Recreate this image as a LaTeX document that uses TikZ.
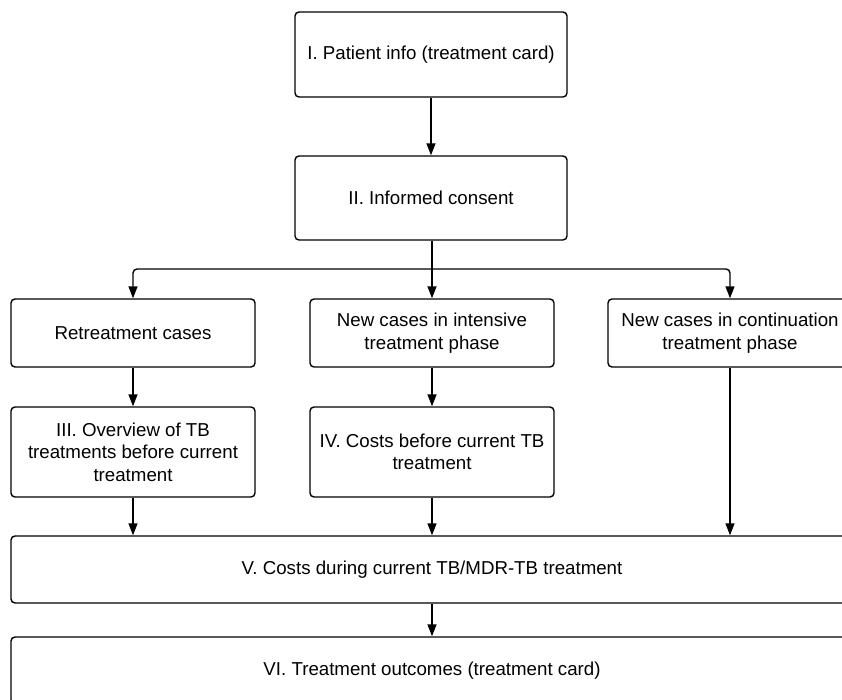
\documentclass[tikz,border=0pt]{standalone}
\usepackage{fontspec}
\setmainfont{Liberation Sans}
\usetikzlibrary{arrows.meta}
\begin{document}
\begin{tikzpicture}[x=1pt,y=-1pt,
  box/.style={draw, line width=1.4pt, rounded corners=4pt, align=center,
    inner sep=0pt, font=\fontsize{18.7}{22.5}\selectfont},
  arr/.style={line width=1.4pt, -{Triangle[length=12pt,width=9pt]}},
  ln/.style={line width=1.4pt}]
\useasboundingbox (0,0) rectangle (842,700);
\clip (0,0) rectangle (842,700);
\fill[white] (0,0) rectangle (842,700);
\node[box, minimum width=272pt, minimum height=85pt] (I) at (431,54.5) {I. Patient info (treatment card)};
\node[box, minimum width=272pt, minimum height=84pt] (II) at (431,198) {II. Informed consent};
\node[box, minimum width=244pt, minimum height=68pt] (ret) at (133,333) {Retreatment cases};
\node[box, minimum width=244pt, minimum height=68pt] (mid) at (432,333) {New cases in intensive\\treatment phase};
\node[box, minimum width=244pt, minimum height=68pt] (cont) at (730,333) {New cases in continuation\\treatment phase};
\node[box, minimum width=244pt, minimum height=90pt] (III) at (133,452) {III. Overview of TB\\treatments before current\\treatment};
\node[box, minimum width=244pt, minimum height=90pt] (IV) at (432,452) {IV. Costs before current TB\\treatment};
\node[box, minimum width=842pt, minimum height=67pt] (V) at (432,569.5) {V. Costs during current TB/MDR-TB treatment};
\node[box, minimum width=842pt, minimum height=67pt] (VI) at (432,670.5) {VI. Treatment outcomes (treatment card)};
\coordinate (j) at (432,269);
\draw[arr] (I.south) -- (II.north);
\draw[ln] (II.south -| j) -- (j);
\draw[arr, rounded corners=4pt] (j) -| (ret.north);
\draw[arr] (j) -- (mid.north);
\draw[arr, rounded corners=4pt] (j) -| (cont.north);
\draw[arr] (ret.south) -- (III.north);
\draw[arr] (mid.south) -- (IV.north);
\draw[arr] (III.south) -- (III.south |- V.north);
\draw[arr] (IV.south) -- (IV.south |- V.north);
\draw[arr] (cont.south) -- (cont.south |- V.north);
\draw[arr] (V.south) -- (VI.north);
\end{tikzpicture}
\end{document}
